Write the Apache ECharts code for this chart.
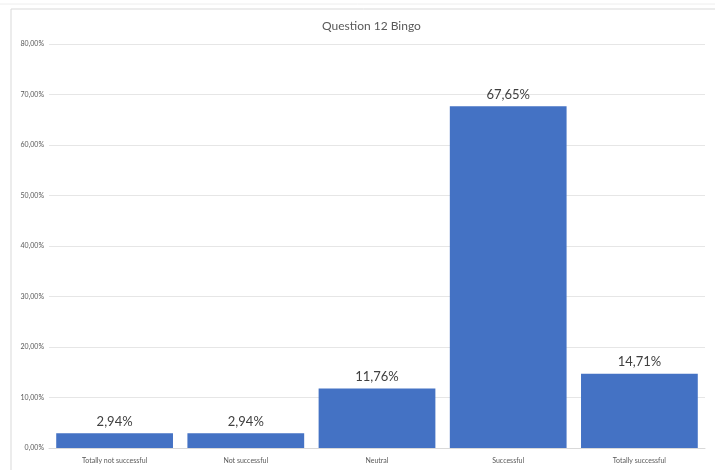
<!DOCTYPE html>
<html>
<head>
<meta charset="utf-8">
<script src="https://cdn.jsdelivr.net/npm/echarts@6/dist/echarts.min.js"></script>
<style>
  html, body { margin: 0; padding: 0; background: #fff; }
  #chart { width: 715px; height: 470px; }
</style>
</head>
<body>
<div id="chart"></div>
<script>
var categories = ['Totally not successful', 'Not successful', 'Neutral', 'Successful', 'Totally successful'];
var values = [2.94, 2.94, 11.76, 67.65, 14.71];
var yTicks = [0, 10, 20, 30, 40, 50, 60, 70, 80];

function fmtPct(v, digits) {
    return v.toFixed(digits).replace('.', ',') + '%';
}

var chart = echarts.init(document.getElementById('chart'));
var option = {
    animation: false,
    textStyle: { fontFamily: 'Lato' },
    title: {
        text: 'Question 12 Bingo',
        left: 317,
        top: 15,
        textStyle: { fontSize: 12, fontWeight: 'normal', color: '#595959', fontFamily: 'Lato' }
    },
    graphic: [{
        type: 'rect',
        shape: { x: 11, y: 9, width: 720, height: 470 },
        style: { fill: 'none', stroke: '#d9d9d9', lineWidth: 1 },
        z: -1
    }, {
        type: 'line',
        shape: { x1: 0, y1: 4, x2: 715, y2: 4 },
        style: { stroke: '#eeeeee', lineWidth: 1 },
        z: -1
    }],
    grid: { left: 49, right: 10, top: 44, bottom: 22, containLabel: false },
    xAxis: {
        type: 'category',
        data: categories,
        axisLine: { lineStyle: { color: '#d9d9d9' } },
        axisTick: { show: false },
        axisLabel: { fontSize: 7, color: '#595959', margin: 9, interval: 0 }
    },
    yAxis: {
        type: 'value',
        min: yTicks[0],
        max: yTicks[yTicks.length - 1],
        interval: 10,
        axisLine: { show: false },
        axisTick: { show: false },
        splitLine: { lineStyle: { color: '#e6e6e6' } },
        axisLabel: {
            fontSize: 7, color: '#595959', margin: 5,
            formatter: function(v) { return fmtPct(v, 2); }
        }
    },
    series: [{
        type: 'bar',
        data: values,
        barCategoryGap: '11%',
        itemStyle: { color: '#4472C4' },
        label: {
            show: true,
            position: 'top',
            distance: 5,
            fontSize: 13,
            color: '#404040',
            formatter: function(p) { return fmtPct(p.value, 2); }
        }
    }]
};
chart.setOption(option);
</script>
</body>
</html>
